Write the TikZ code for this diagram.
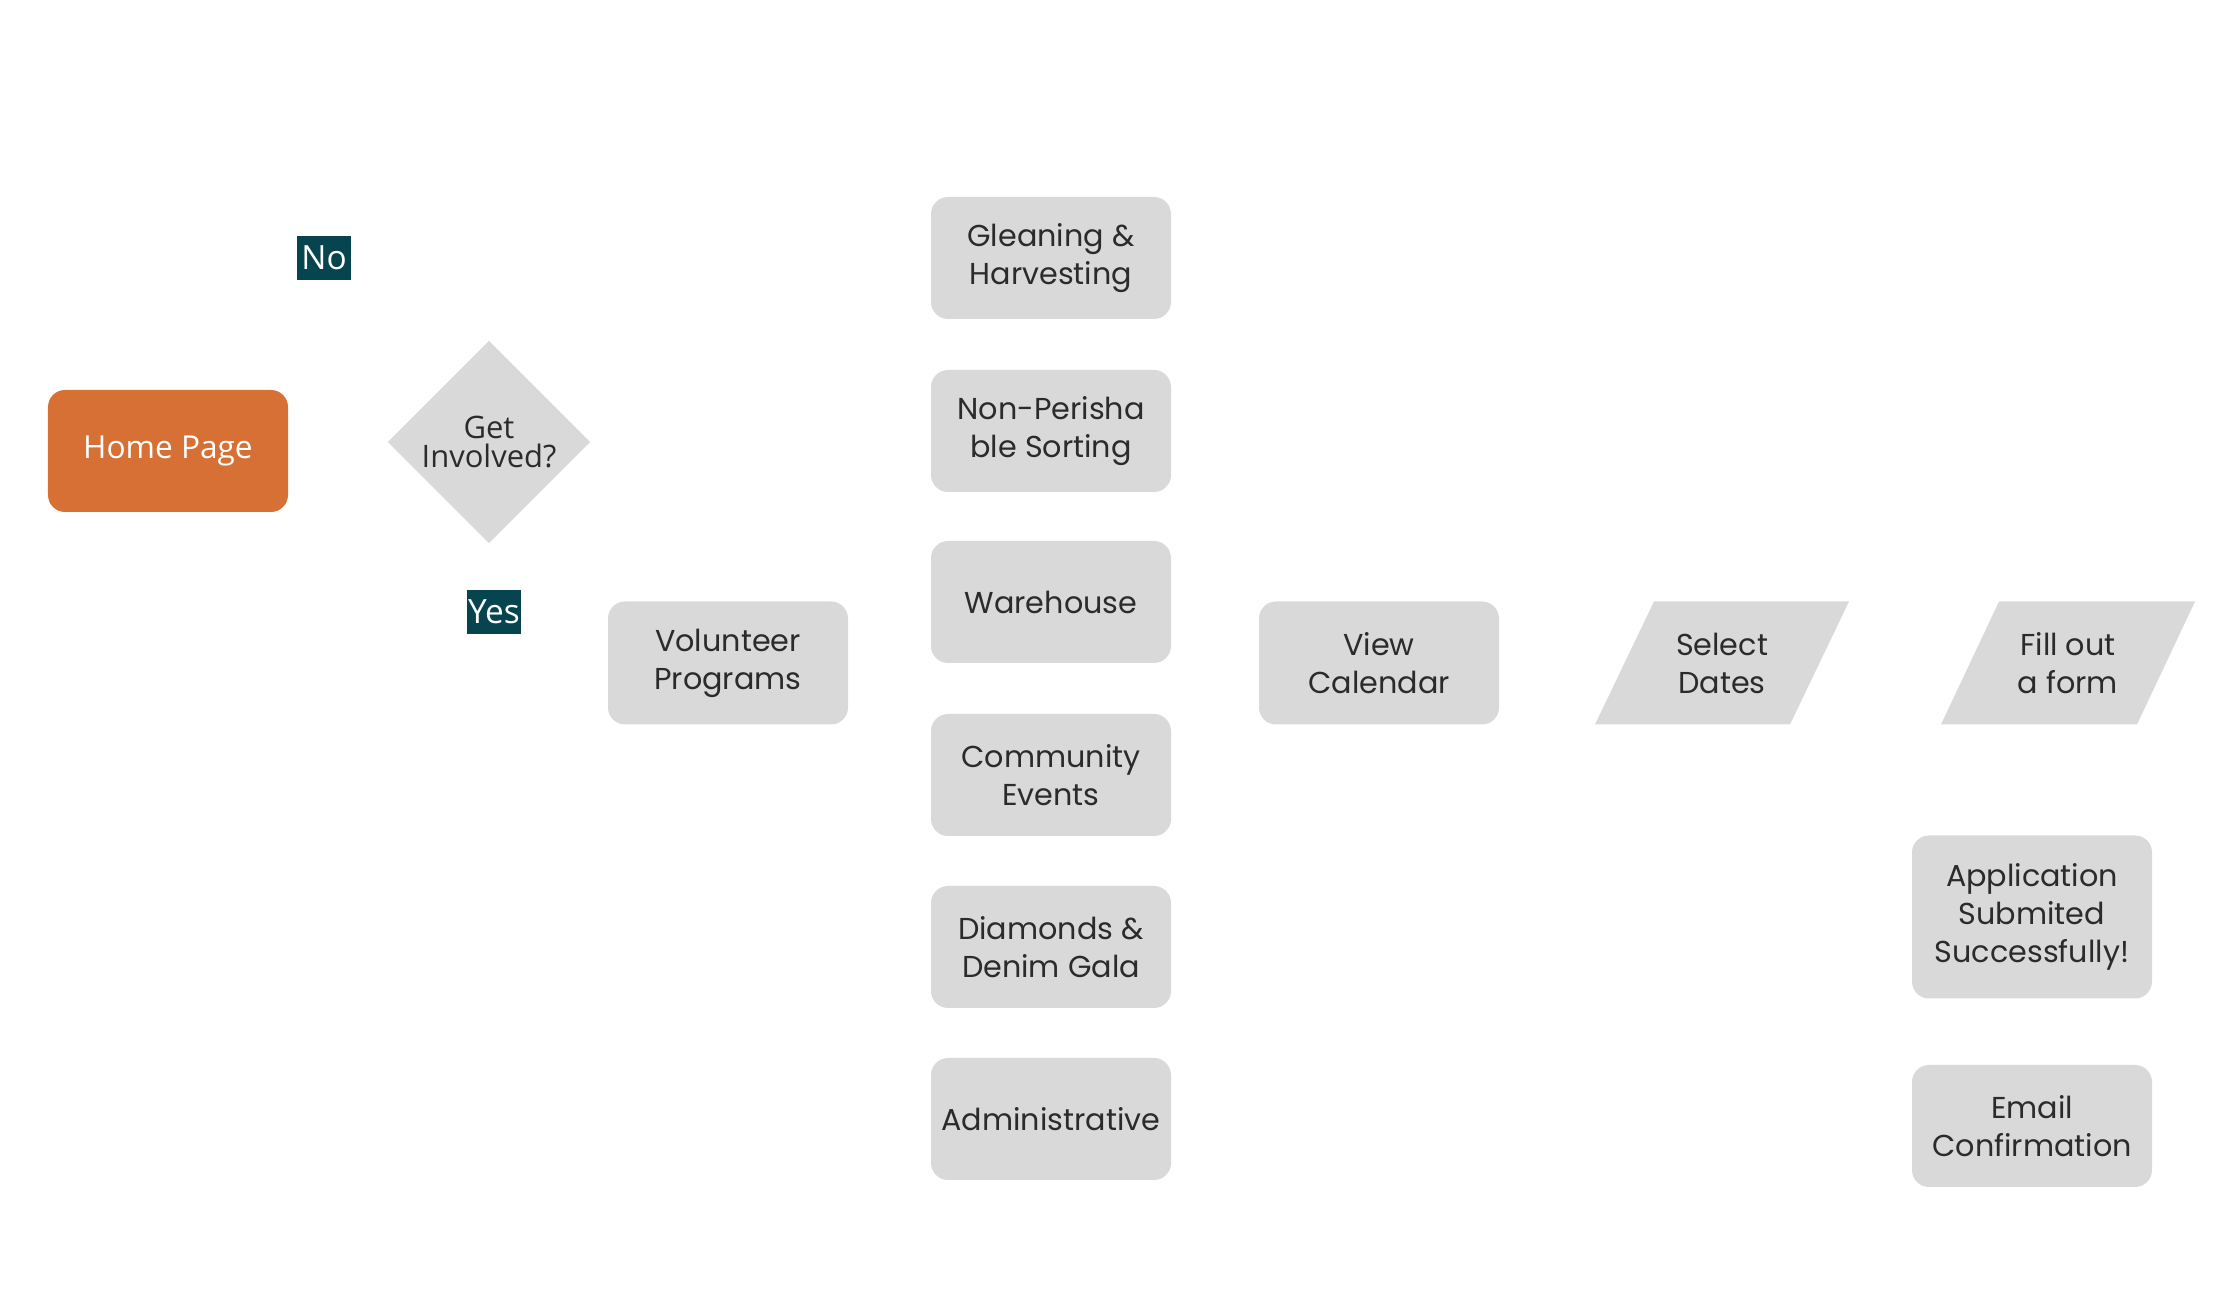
\documentclass[tikz,border=0pt]{standalone}
\usepackage{fontspec}
\setmainfont{Poppins}
\newfontfamily\segoe{Open Sans}
\usetikzlibrary{shapes.geometric,calc}
\definecolor{boxgray}{HTML}{D9D9D9}
\definecolor{orangebox}{HTML}{D67035}
\definecolor{tealbox}{HTML}{064550}
\definecolor{txt}{HTML}{2B2B2B}
\tikzset{
  graybox/.style={rectangle, rounded corners=0.17cm, fill=boxgray, text=txt,
    minimum width=2.40cm, minimum height=1.22cm, inner sep=0pt, align=center,
    font=\fontsize{8.6}{10.8}\selectfont},
  homebox/.style={graybox, fill=orangebox, text=white, font=\segoe\fontsize{9}{11}\selectfont},
  decision/.style={diamond, fill=boxgray, text=txt, minimum width=2.03cm, minimum height=2.03cm,
    inner sep=0pt, align=center, font=\segoe\fontsize{8.8}{8.5}\selectfont},
  tag/.style={rectangle, fill=tealbox, text=white, minimum width=0.54cm, minimum height=0.44cm,
    inner sep=0pt, font=\segoe\fontsize{9.5}{11}\selectfont},
  inputtext/.style={rectangle, text=txt, inner sep=0pt, align=center,
    font=\fontsize{8.6}{10.8}\selectfont},
  inputfill/.style={fill=boxgray},
}
\begin{document}
\begin{tikzpicture}
\useasboundingbox (0,0) rectangle (22.39,13.13);
\node[homebox] (home) at (1.68,8.62) {Home Page};
\node[tag] (no) at (3.24,10.55) {No};
\node[decision] (get) at (4.89,8.71) {Get\\Involved?};
\node[tag] (yes) at (4.94,7.01) {Yes};
\node[graybox, minimum height=1.23cm] (vol) at (7.28,6.50) {Volunteer\\Programs};
\node[graybox] (glean) at (10.51,10.55) {Gleaning \&\\Harvesting};
\node[graybox] (nonp) at (10.51,8.82) {Non-Perisha\\ble Sorting};
\node[graybox] (ware) at (10.51,7.11) {Warehouse};
\node[graybox] (comm) at (10.51,5.38) {Community\\Events};
\node[graybox] (gala) at (10.51,3.66) {Diamonds \&\\Denim Gala};
\node[graybox] (admin) at (10.51,1.94) {Administrative};
\node[graybox, minimum height=1.23cm] (cal) at (13.79,6.50) {View\\Calendar};
% input (parallelogram) shapes
\coordinate (selc) at (17.22,6.50);
\coordinate (formc) at (20.68,6.50);
\fill[inputfill] ($(selc)+(-1.27,-0.615)$) -- ++(1.95,0) -- ++(0.59,1.23) -- ++(-1.95,0) -- cycle;
\fill[inputfill] ($(formc)+(-1.27,-0.615)$) -- ++(1.96,0) -- ++(0.58,1.23) -- ++(-1.96,0) -- cycle;
\node[inputtext] (sel) at (selc) {Select\\Dates};
\node[inputtext] (form) at (formc) {Fill out\\a form};
\node[graybox, minimum height=1.63cm] (app) at (20.32,3.96) {Application\\Submited\\Successfully!};
\node[graybox] (email) at (20.32,1.87) {Email\\Confirmation};
\end{tikzpicture}
\end{document}
